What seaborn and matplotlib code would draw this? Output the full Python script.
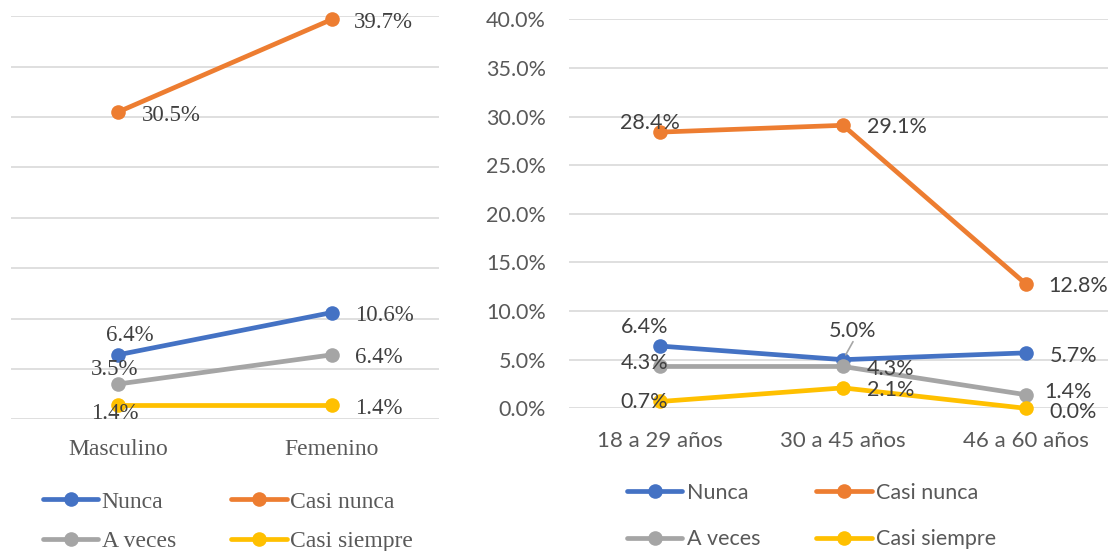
import matplotlib
matplotlib.use("Agg")
import matplotlib.pyplot as plt
import seaborn as sns
import pandas as pd
from matplotlib.lines import Line2D
from matplotlib.ticker import FuncFormatter, MultipleLocator

# ---------------- data ----------------
series_names = ["Nunca", "Casi nunca", "A veces", "Casi siempre"]
series_colors = ["#4472C4", "#ED7D31", "#A5A5A5", "#FFC000"]

sexo_categories = ["Masculino", "Femenino"]
sexo_nunca = [6.4, 10.6]
sexo_casi_nunca = [30.5, 39.7]
sexo_a_veces = [3.5, 6.4]
sexo_casi_siempre = [1.4, 1.4]

edad_categories = ["18 a 29 años", "30 a 45 años", "46 a 60 años"]
edad_nunca = [6.4, 5.0, 5.7]
edad_casi_nunca = [28.4, 29.1, 12.8]
edad_a_veces = [4.3, 4.3, 1.4]
edad_casi_siempre = [0.7, 2.1, 0.0]

# label placement (pixel offsets, ha) per series / category
sexo_label_pos = {
    "Nunca": [(12, 19, "center"), (23, -3, "left")],
    "Casi nunca": [(24, -3, "left"), (22, -3, "left")],
    "A veces": [(-3, 15, "center"), (23, -3, "left")],
    "Casi siempre": [(-3, -8, "center"), (23, -3, "left")],
}
edad_label_pos = {
    "Nunca": [(-16, 19, "center"), (10, 29, "center"), (24, -3, "left")],
    "Casi nunca": [(-10, 9, "center"), (24, -2, "left"), (23, -2, "left")],
    "A veces": [(-16, 3, "center"), (24, -3, "left"), (19, 3, "left")],
    "Casi siempre": [(-16, -1, "center"), (24, -2, "left"), (24, -4, "left")],
}


def long_df(categories, values_lists):
    rows = []
    for name, vals in zip(series_names, values_lists):
        for c, v in zip(categories, vals):
            rows.append({"cat": c, "val": v, "serie": name})
    return pd.DataFrame(rows)


df_sexo = long_df(sexo_categories, [sexo_nunca, sexo_casi_nunca, sexo_a_veces, sexo_casi_siempre])
df_edad = long_df(edad_categories, [edad_nunca, edad_casi_nunca, edad_a_veces, edad_casi_siempre])

sns.set_theme(style="white")
W, H = 1108, 551
fig = plt.figure(figsize=(W / 100, H / 100), dpi=100)
ax1 = fig.add_axes([11 / W, (H - 419.3) / H, 428 / W, 403 / H])
ax2 = fig.add_axes([569 / W, (H - 408.3) / H, 548 / W, 389 / H])

serif = "Liberation Serif"
sans = "Lato"
lw, ms = 3.4, 10.5

for ax, df, cats, fam, fs, pos in [
    (ax1, df_sexo, sexo_categories, serif, 16.5, sexo_label_pos),
    (ax2, df_edad, edad_categories, sans, 15.5, edad_label_pos),
]:
    sns.lineplot(data=df, x="cat", y="val", hue="serie", hue_order=series_names,
                 palette=series_colors, marker="o", markersize=ms, markeredgewidth=0,
                 linewidth=lw, sort=False, errorbar=None, legend=False, ax=ax,
                 clip_on=False)
    ax.set_ylim(0, 40)
    ax.set_xlim(-0.5, len(cats) - 0.5)
    ax.yaxis.set_major_locator(MultipleLocator(5))
    ax.grid(axis="y", color="#d9d9d9", linewidth=1.2)
    ax.grid(axis="x", visible=False)
    ax.set_axisbelow(True)
    for s in ax.spines.values():
        s.set_visible(False)
    ax.set_xlabel("")
    ax.set_ylabel("")
    ax.tick_params(axis="both", length=0)
    for lab in ax.get_xticklabels():
        lab.set_family(fam)
        lab.set_fontsize(fs + 0.5)
        lab.set_color("#595959")
    # data labels
    for name in series_names:
        sub = df[df["serie"] == name]
        for (c, v), (dx, dy, ha) in zip(zip(sub["cat"], sub["val"]), pos[name]):
            ax.annotate(f"{v:.1f}%", xy=(c, v), xytext=(dx, dy),
                        textcoords="offset pixels", ha=ha, va="center",
                        fontsize=fs, family=fam, color="#404040",
                        annotation_clip=False)

# leader line for the 5.0% label
ax2.annotate("", xy=(edad_categories[1], edad_nunca[1]), xytext=(10, 18),
             textcoords="offset pixels",
             arrowprops=dict(arrowstyle="-", color="#a6a6a6", lw=1.2, shrinkA=0, shrinkB=4))

ax1.tick_params(axis="x", pad=14)
ax1.tick_params(axis="y", labelleft=False)
ax2.tick_params(axis="x", pad=16)
ax2.tick_params(axis="y", pad=16.5)
ax2.yaxis.set_major_formatter(FuncFormatter(lambda v, p: f"{v:.1f}%"))
for lab in ax2.get_yticklabels():
    lab.set_family(sans)
    lab.set_fontsize(15.5)
    lab.set_color("#595959")

# legends
order = [0, 2, 1, 3]
handles = [Line2D([], [], color=series_colors[i], lw=lw, marker="o", ms=ms, mew=0) for i in order]
labels = [series_names[i] for i in order]

fig.legend(handles, labels, ncol=2, loc="upper left",
           bbox_to_anchor=(42.7 / W, (H - 491) / H), frameon=False,
           prop={"family": serif, "size": 17}, labelcolor="#595959",
           handlelength=2.36, handletextpad=0.14, columnspacing=2.33,
           labelspacing=0.77, borderpad=0, borderaxespad=0)
fig.legend(handles, labels, ncol=2, loc="upper left",
           bbox_to_anchor=(626.7 / W, (H - 483) / H), frameon=False,
           prop={"family": sans, "size": 15.5}, labelcolor="#595959",
           handlelength=2.59, handletextpad=0.2, columnspacing=2.6,
           labelspacing=1.23, borderpad=0, borderaxespad=0)

fig.savefig("out.png", dpi=100)
